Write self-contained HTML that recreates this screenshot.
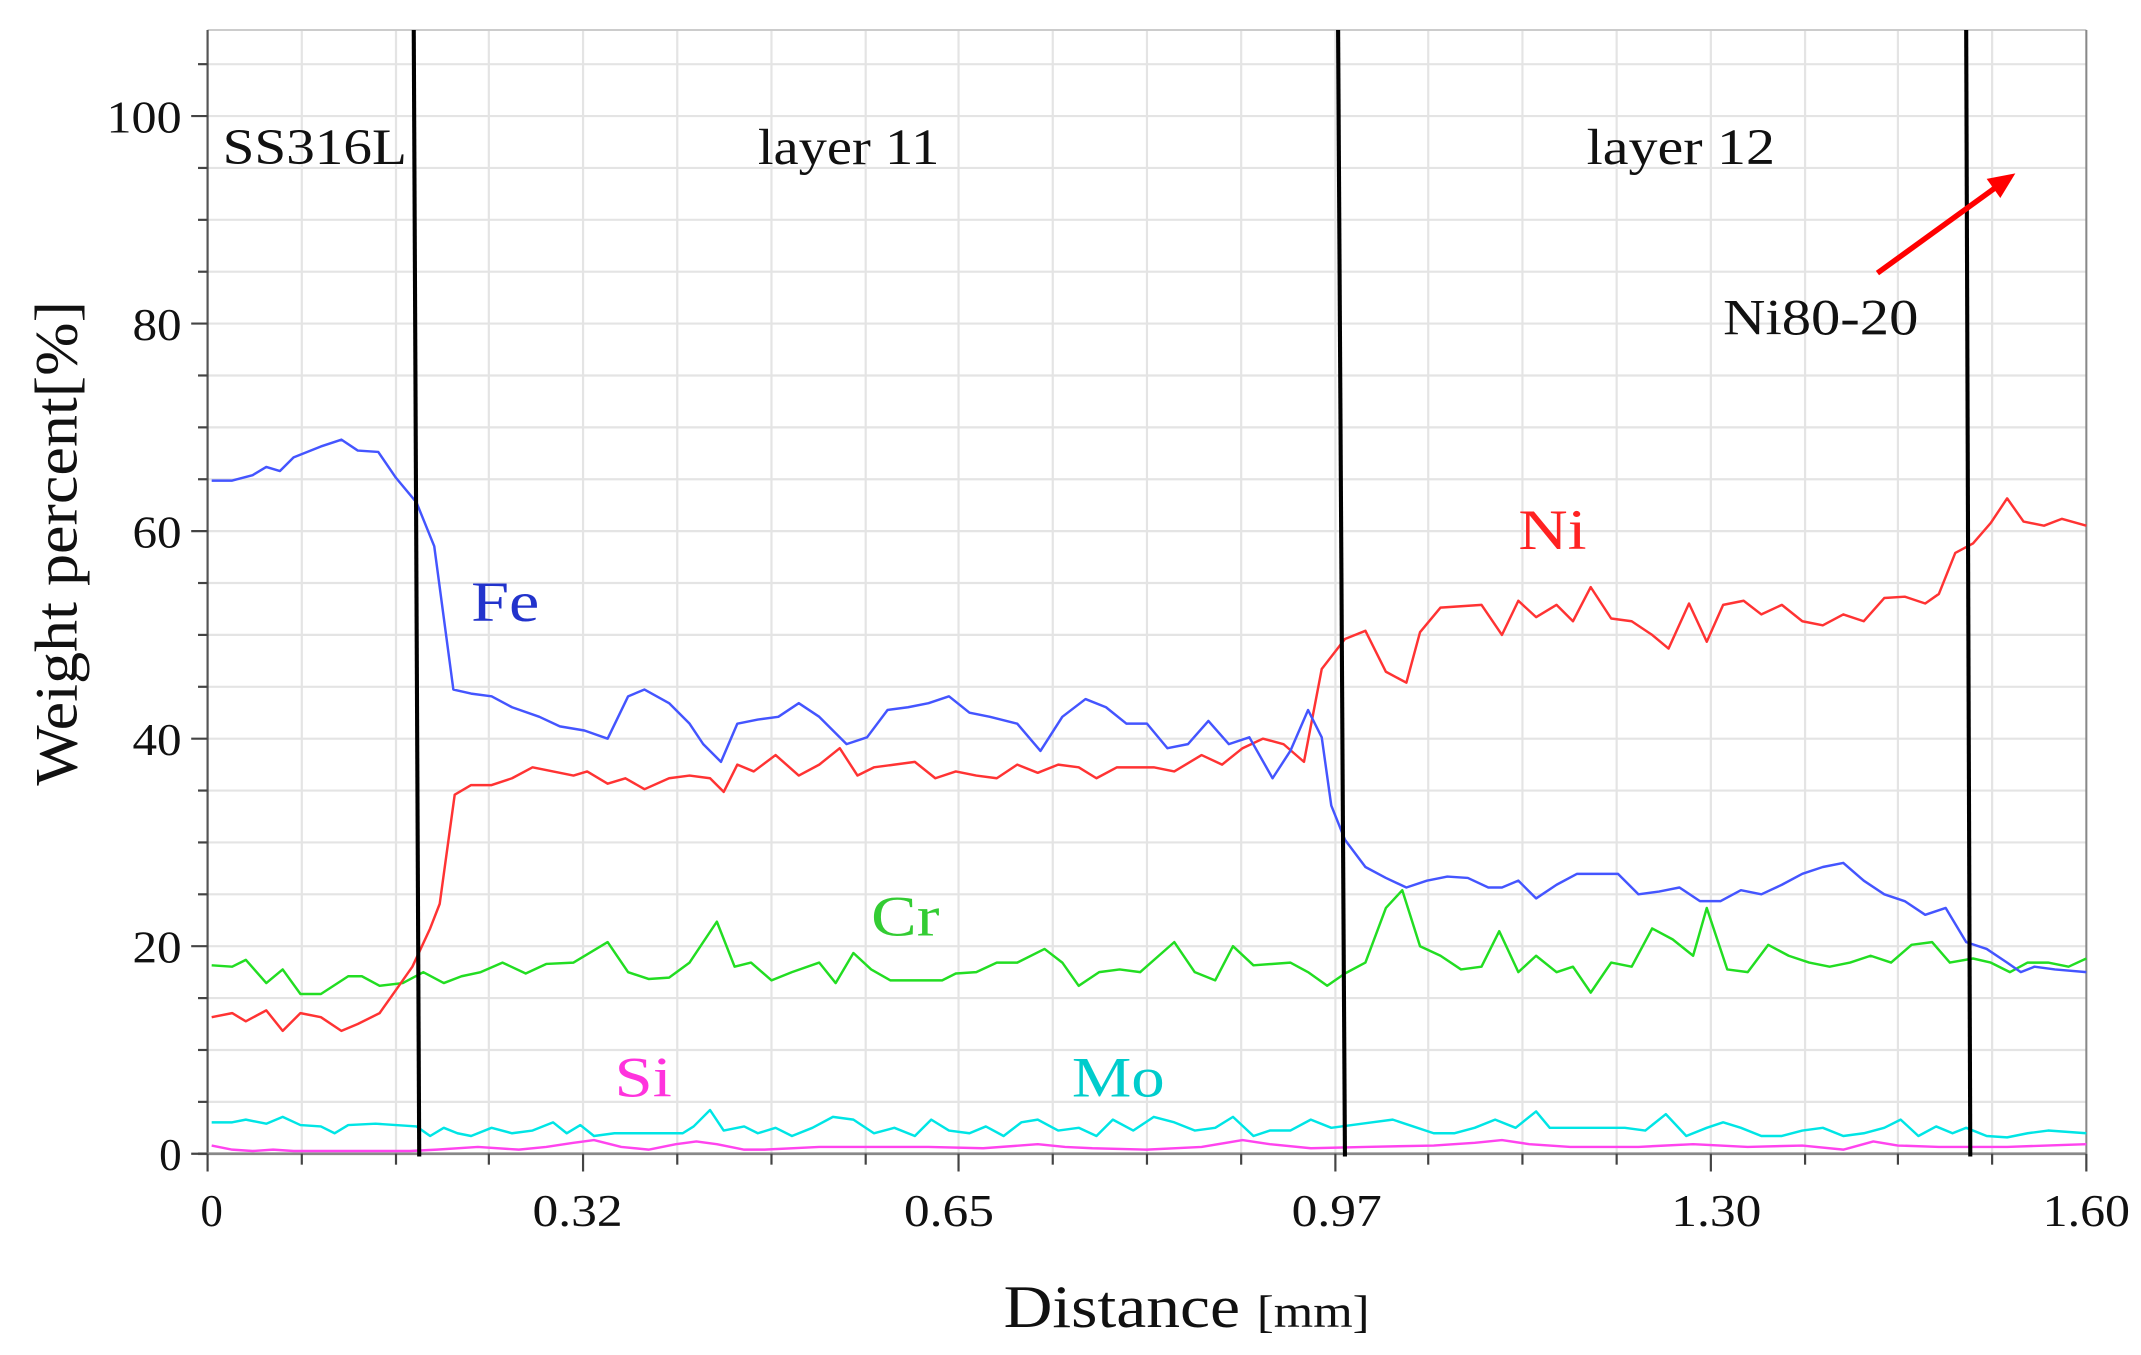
<!DOCTYPE html>
<html><head><meta charset="utf-8"><style>html,body{margin:0;padding:0;background:#fff}svg{display:block}</style></head>
<body>
<svg width="2141" height="1355" viewBox="0 0 1568 992.4" xmlns="http://www.w3.org/2000/svg" font-family="'Liberation Serif', serif">
<rect width="1568" height="993" fill="#fff"/>
<g stroke="#e4e4e4" stroke-width="1.6">
<line x1="152" y1="807" x2="1528" y2="807"/><line x1="152" y1="769" x2="1528" y2="769"/><line x1="152" y1="731" x2="1528" y2="731"/><line x1="152" y1="693" x2="1528" y2="693"/><line x1="152" y1="655" x2="1528" y2="655"/><line x1="152" y1="617" x2="1528" y2="617"/><line x1="152" y1="579" x2="1528" y2="579"/><line x1="152" y1="541" x2="1528" y2="541"/><line x1="152" y1="503" x2="1528" y2="503"/><line x1="152" y1="465" x2="1528" y2="465"/><line x1="152" y1="427" x2="1528" y2="427"/><line x1="152" y1="389" x2="1528" y2="389"/><line x1="152" y1="351" x2="1528" y2="351"/><line x1="152" y1="313" x2="1528" y2="313"/><line x1="152" y1="275" x2="1528" y2="275"/><line x1="152" y1="237" x2="1528" y2="237"/><line x1="152" y1="199" x2="1528" y2="199"/><line x1="152" y1="161" x2="1528" y2="161"/><line x1="152" y1="123" x2="1528" y2="123"/><line x1="152" y1="85" x2="1528" y2="85"/><line x1="152" y1="47" x2="1528" y2="47"/>
<line x1="221" y1="22" x2="221" y2="845"/><line x1="290" y1="22" x2="290" y2="845"/><line x1="358" y1="22" x2="358" y2="845"/><line x1="427" y1="22" x2="427" y2="845"/><line x1="496" y1="22" x2="496" y2="845"/><line x1="565" y1="22" x2="565" y2="845"/><line x1="634" y1="22" x2="634" y2="845"/><line x1="702" y1="22" x2="702" y2="845"/><line x1="771" y1="22" x2="771" y2="845"/><line x1="840" y1="22" x2="840" y2="845"/><line x1="909" y1="22" x2="909" y2="845"/><line x1="978" y1="22" x2="978" y2="845"/><line x1="1046" y1="22" x2="1046" y2="845"/><line x1="1115" y1="22" x2="1115" y2="845"/><line x1="1184" y1="22" x2="1184" y2="845"/><line x1="1253" y1="22" x2="1253" y2="845"/><line x1="1322" y1="22" x2="1322" y2="845"/><line x1="1390" y1="22" x2="1390" y2="845"/><line x1="1459" y1="22" x2="1459" y2="845"/>
</g>
<line x1="152" y1="22" x2="1528" y2="22" stroke="#ccc" stroke-width="1.5"/>
<line x1="1528" y1="22" x2="1528" y2="845" stroke="#888" stroke-width="1.5"/>
<line x1="152" y1="22" x2="152" y2="845" stroke="#555" stroke-width="1.6"/>
<line x1="145" y1="845" x2="1528" y2="845" stroke="#888" stroke-width="2"/>
<g stroke="#444" stroke-width="1.6">
<line x1="140" y1="845" x2="152" y2="845"/><line x1="140" y1="693" x2="152" y2="693"/><line x1="140" y1="541" x2="152" y2="541"/><line x1="140" y1="389" x2="152" y2="389"/><line x1="140" y1="237" x2="152" y2="237"/><line x1="140" y1="85" x2="152" y2="85"/>
<line x1="145" y1="769" x2="152" y2="769"/><line x1="145" y1="617" x2="152" y2="617"/><line x1="145" y1="465" x2="152" y2="465"/><line x1="145" y1="313" x2="152" y2="313"/><line x1="145" y1="161" x2="152" y2="161"/><line x1="145" y1="47" x2="152" y2="47"/>
<line x1="145" y1="807" x2="152" y2="807"/><line x1="145" y1="731" x2="152" y2="731"/><line x1="145" y1="655" x2="152" y2="655"/><line x1="145" y1="579" x2="152" y2="579"/><line x1="145" y1="503" x2="152" y2="503"/><line x1="145" y1="427" x2="152" y2="427"/><line x1="145" y1="351" x2="152" y2="351"/><line x1="145" y1="275" x2="152" y2="275"/><line x1="145" y1="199" x2="152" y2="199"/><line x1="145" y1="123" x2="152" y2="123"/>
<line x1="152" y1="845" x2="152" y2="858"/><line x1="427" y1="845" x2="427" y2="858"/><line x1="702" y1="845" x2="702" y2="858"/><line x1="978" y1="845" x2="978" y2="858"/><line x1="1253" y1="845" x2="1253" y2="858"/><line x1="1528" y1="845" x2="1528" y2="858"/>
<line x1="221" y1="845" x2="221" y2="853"/><line x1="290" y1="845" x2="290" y2="853"/><line x1="358" y1="845" x2="358" y2="853"/><line x1="496" y1="845" x2="496" y2="853"/><line x1="565" y1="845" x2="565" y2="853"/><line x1="634" y1="845" x2="634" y2="853"/><line x1="771" y1="845" x2="771" y2="853"/><line x1="840" y1="845" x2="840" y2="853"/><line x1="909" y1="845" x2="909" y2="853"/><line x1="1046" y1="845" x2="1046" y2="853"/><line x1="1115" y1="845" x2="1115" y2="853"/><line x1="1184" y1="845" x2="1184" y2="853"/><line x1="1322" y1="845" x2="1322" y2="853"/><line x1="1390" y1="845" x2="1390" y2="853"/><line x1="1459" y1="845" x2="1459" y2="853"/>
</g>
<g fill="none" stroke-width="1.8" stroke-linejoin="round">
<polyline stroke="#00e5e5" points="155,822 170,822 180,820 195,823 207,818 220,824 235,825 245,830 255,824 275,823 290,824 305,825 315,832 325,826 335,830 345,832 360,826 375,830 390,828 405,822 415,830 425,824 435,832 450,830 500,830 508,825 520,813 530,828 545,825 555,830 568,826 580,832 595,826 610,818 625,820 640,830 655,826 670,832 682,820 695,828 710,830 722,825 735,832 748,822 760,820 775,828 790,826 803,832 815,820 830,828 845,818 860,822 875,828 890,826 903,818 918,832 930,828 945,828 960,820 975,826 990,824 1005,822 1020,820 1035,825 1050,830 1065,830 1080,826 1095,820 1110,826 1125,814 1135,826 1190,826 1205,828 1220,816 1235,832 1250,826 1262,822 1275,826 1290,832 1305,832 1320,828 1335,826 1350,832 1365,830 1380,826 1392,820 1405,832 1418,825 1430,830 1440,826 1455,832 1470,833 1485,830 1500,828 1528,830"/>
<polyline stroke="#ff44ee" points="155,839 170,842 185,843 200,842 215,843 300,843 320,842 350,840 380,842 400,840 420,837 435,835 455,840 475,842 495,838 510,836 525,838 545,842 560,842 600,840 680,840 720,841 760,838 780,840 800,841 840,842 880,840 910,835 930,838 960,841 1000,840 1050,839 1080,837 1100,835 1120,838 1150,840 1200,840 1240,838 1280,840 1320,839 1350,842 1372,836 1390,839 1420,840 1470,840 1528,838"/>
<polyline stroke="#22dd22" points="155,707 170,708 180,703 195,720 207,710 220,728 235,728 255,715 265,715 278,722 295,720 310,712 325,720 338,715 352,712 368,705 385,713 400,706 420,705 445,690 460,712 475,717 490,716 505,705 525,675 538,708 550,705 565,718 580,712 600,705 612,720 625,698 638,710 652,718 690,718 700,713 715,712 730,705 745,705 765,695 778,705 790,722 805,712 820,710 835,712 860,690 875,712 890,718 903,693 918,707 945,705 958,712 972,722 985,713 1000,705 1015,665 1027,652 1040,693 1055,700 1070,710 1085,708 1098,682 1112,712 1125,700 1140,712 1152,708 1165,727 1180,705 1195,708 1210,680 1225,688 1240,700 1250,665 1265,710 1280,712 1295,692 1310,700 1325,705 1340,708 1355,705 1370,700 1385,705 1400,692 1415,690 1428,705 1445,702 1458,705 1472,712 1485,705 1500,705 1515,708 1528,702"/>
<polyline stroke="#ff3333" points="155,745 170,742 180,748 195,740 207,755 220,742 235,745 250,755 262,750 278,742 290,725 302,708 315,680 322,662 333,582 345,575 360,575 375,570 390,562 405,565 420,568 430,565 445,574 458,570 472,578 490,570 505,568 520,570 530,580 540,560 552,565 568,553 585,568 600,560 615,548 628,568 640,562 655,560 670,558 685,570 700,565 715,568 730,570 745,560 760,566 775,560 790,562 803,570 818,562 845,562 860,565 880,553 895,560 910,548 925,541 940,545 955,558 968,490 985,468 1000,462 1015,492 1030,500 1040,463 1055,445 1085,443 1100,465 1112,440 1125,452 1140,443 1152,455 1165,430 1180,453 1195,455 1210,465 1222,475 1237,442 1250,470 1262,443 1277,440 1290,450 1305,443 1320,455 1335,458 1350,450 1365,455 1380,438 1395,437 1410,442 1420,435 1432,405 1445,398 1458,383 1470,365 1482,382 1497,385 1510,380 1528,385"/>
<polyline stroke="#4455ff" points="155,352 170,352 185,348 195,342 205,345 215,335 235,327 250,322 262,330 277,331 290,350 305,368 318,400 332,505 345,508 360,510 375,518 395,525 410,532 428,535 445,541 460,510 472,505 490,515 505,530 515,545 528,558 540,530 555,527 570,525 585,515 600,525 620,545 635,540 650,520 665,518 680,515 695,510 710,522 725,525 745,530 762,550 778,525 795,512 810,518 825,530 840,530 855,548 870,545 885,528 900,545 915,540 932,570 945,550 958,520 968,540 975,590 985,615 1000,635 1015,643 1030,650 1045,645 1060,642 1075,643 1090,650 1100,650 1112,645 1125,658 1140,648 1155,640 1185,640 1200,655 1215,653 1230,650 1245,660 1260,660 1275,652 1290,655 1305,648 1320,640 1335,635 1350,632 1365,645 1380,655 1395,660 1410,670 1425,665 1440,690 1455,695 1470,705 1480,712 1490,708 1505,710 1528,712"/>
</g>
<g stroke="#000" stroke-width="3">
<line x1="303" y1="22" x2="307" y2="847"/><line x1="980" y1="22" x2="985" y2="847"/><line x1="1440" y1="22" x2="1443" y2="847"/>
</g>
<line x1="1375" y1="200" x2="1462" y2="137" stroke="#ff0000" stroke-width="4"/>
<polygon points="1476,127 1455,131 1465,145" fill="#ff0000"/>
<g font-size="33" fill="#111" lengthAdjust="spacingAndGlyphs">
<text x="78" y="97" textLength="55" lengthAdjust="spacingAndGlyphs">100</text>
<text x="97" y="249" textLength="36" lengthAdjust="spacingAndGlyphs">80</text>
<text x="97" y="401" textLength="36" lengthAdjust="spacingAndGlyphs">60</text>
<text x="97" y="553" textLength="36" lengthAdjust="spacingAndGlyphs">40</text>
<text x="97" y="705" textLength="36" lengthAdjust="spacingAndGlyphs">20</text>
<text x="133" y="857" text-anchor="end">0</text>
<text x="155" y="898" text-anchor="middle">0</text>
<text x="390" y="898" textLength="66" lengthAdjust="spacingAndGlyphs">0.32</text>
<text x="662" y="898" textLength="66" lengthAdjust="spacingAndGlyphs">0.65</text>
<text x="946" y="898" textLength="66" lengthAdjust="spacingAndGlyphs">0.97</text>
<text x="1224" y="898" textLength="66" lengthAdjust="spacingAndGlyphs">1.30</text>
<text x="1496" y="898" textLength="64" lengthAdjust="spacingAndGlyphs">1.60</text>
</g>
<g font-size="37" fill="#111">
<text x="163" y="120" textLength="135" lengthAdjust="spacingAndGlyphs">SS316L</text>
<text x="555" y="120" textLength="133" lengthAdjust="spacingAndGlyphs">layer 11</text>
<text x="1162" y="120" textLength="138" lengthAdjust="spacingAndGlyphs">layer 12</text>
<text x="1262" y="245" textLength="143" lengthAdjust="spacingAndGlyphs">Ni80-20</text>
</g>
<g font-size="42">
<text x="345" y="455" fill="#2233cc" textLength="50" lengthAdjust="spacingAndGlyphs">Fe</text>
<text x="1112" y="402" fill="#ff2222" textLength="50" lengthAdjust="spacingAndGlyphs">Ni</text>
<text x="638" y="685" fill="#33cc33" textLength="50" lengthAdjust="spacingAndGlyphs">Cr</text>
<text x="450" y="803" fill="#ff33dd" textLength="42" lengthAdjust="spacingAndGlyphs">Si</text>
<text x="785" y="803" fill="#00cccc" textLength="68" lengthAdjust="spacingAndGlyphs">Mo</text>
</g>
<text x="735" y="972" fill="#111" textLength="268" lengthAdjust="spacingAndGlyphs"><tspan font-size="44">Distance </tspan><tspan font-size="33">[mm]</tspan></text>
<text transform="translate(56,398) rotate(-90)" text-anchor="middle" font-size="44" fill="#111" textLength="355" lengthAdjust="spacingAndGlyphs">Weight percent[%]</text>
</svg>
</body></html>
